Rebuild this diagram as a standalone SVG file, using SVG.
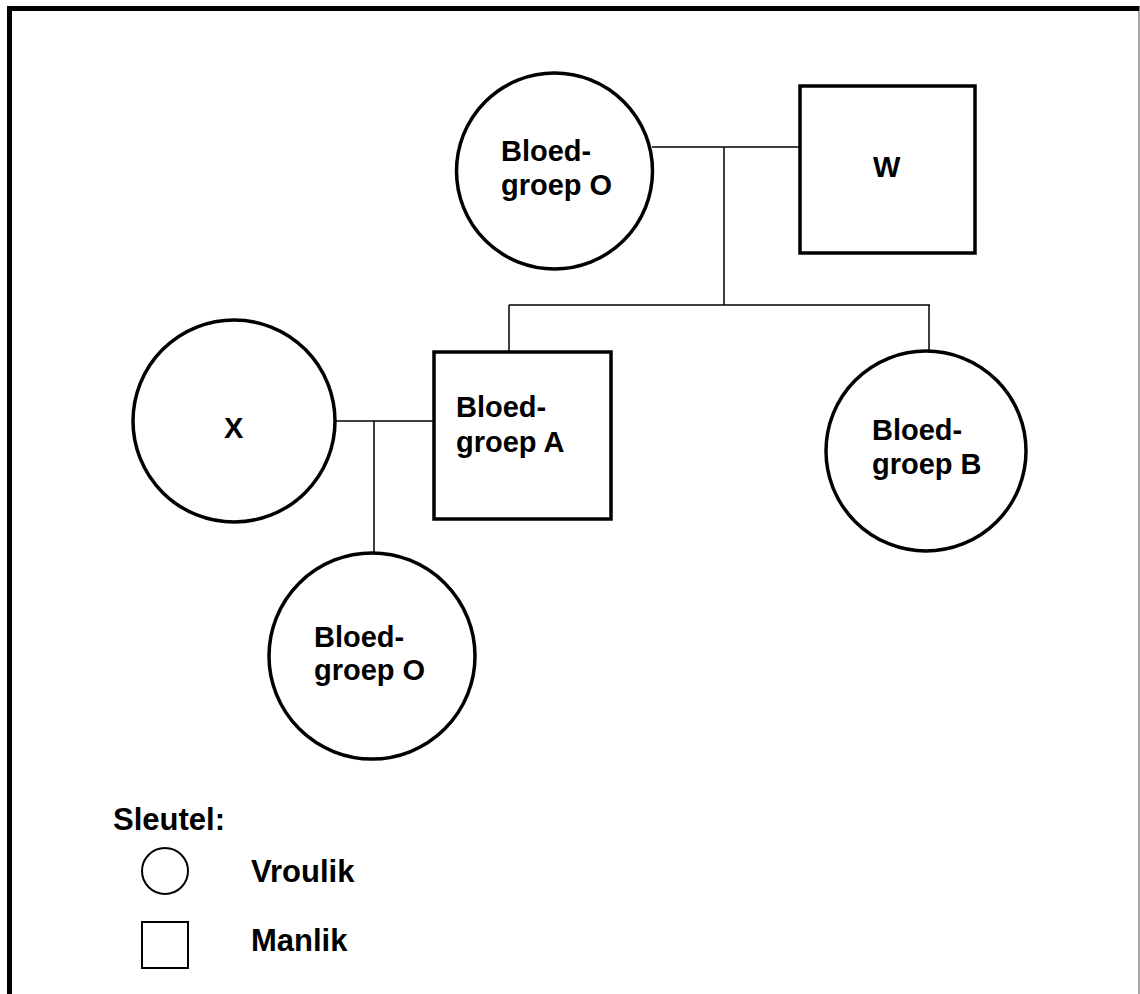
<svg xmlns="http://www.w3.org/2000/svg" width="1140" height="994" viewBox="0 0 1140 994">
<style>
.node{fill:#fff;stroke:#000;stroke-width:3.5}
.leg{fill:#fff;stroke:#000;stroke-width:2}
.con{fill:none;stroke:#000;stroke-width:1.5}
text{font-family:"Liberation Sans",Arial,sans-serif;font-weight:bold;font-size:29px;fill:#000}
.lt{font-size:31px}
</style>
<rect width="1140" height="994" fill="#fff"/>
<path d="M9.5 994 V8.5 H1139.5" fill="none" stroke="#000" stroke-width="5"/>
<line x1="1139" y1="11" x2="1139" y2="994" stroke="#888" stroke-width="1.5"/>
<g id="connectors" class="con">
<line x1="652" y1="147" x2="800" y2="147"/>
<line x1="724" y1="147" x2="724" y2="305"/>
<line x1="509" y1="305" x2="930" y2="305"/>
<line x1="509" y1="305" x2="509" y2="352"/>
<line x1="929" y1="305" x2="929" y2="351"/>
<line x1="335" y1="421" x2="434" y2="421"/>
<line x1="374" y1="421" x2="374" y2="556"/>
</g>
<g id="mother">
<circle class="node" cx="554.5" cy="171" r="98"/>
<text x="501" y="161">Bloed-</text>
<text x="501" y="195">groep O</text>
</g>
<g id="W">
<rect class="node" x="800" y="86" width="175" height="167"/>
<text x="873" y="177">W</text>
</g>
<g id="X">
<circle class="node" cx="234" cy="421" r="101"/>
<text x="224" y="438">X</text>
</g>
<g id="sonA">
<rect class="node" x="434" y="352" width="177" height="167"/>
<text x="456" y="417">Bloed-</text>
<text x="456" y="452">groep A</text>
</g>
<g id="daughterB">
<circle class="node" cx="926" cy="451" r="100"/>
<text x="872" y="440">Bloed-</text>
<text x="872" y="474">groep B</text>
</g>
<g id="grandchild">
<circle class="node" cx="372" cy="656" r="103"/>
<text x="314" y="647">Bloed-</text>
<text x="314" y="680">groep O</text>
</g>
<g id="legend">
<text class="lt" x="113" y="830">Sleutel:</text>
<circle class="leg" cx="165" cy="871" r="23"/>
<text class="lt" x="251" y="882">Vroulik</text>
<rect class="leg" x="142" y="922" width="46" height="46"/>
<text class="lt" x="251" y="951">Manlik</text>
</g>
</svg>
